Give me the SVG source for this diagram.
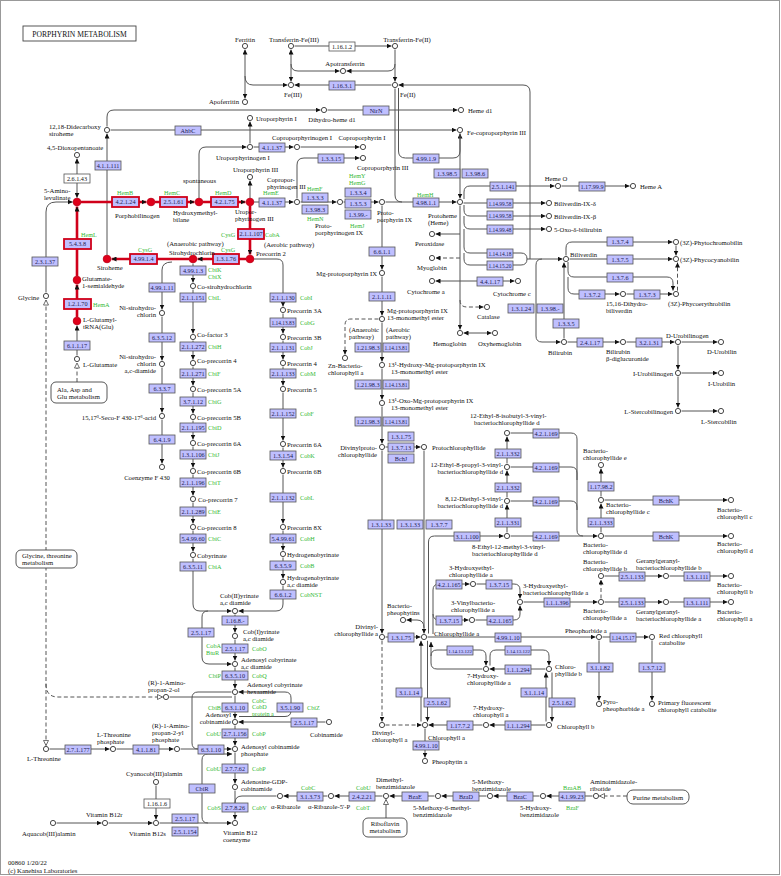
<svg xmlns="http://www.w3.org/2000/svg" width="781" height="876" viewBox="0 0 781 876">
<defs>
<style>
text{font-family:"Liberation Serif","Times New Roman",serif;font-size:6.7px;fill:#111}
.l{fill:none;stroke:#555;stroke-width:1}
.k{stroke-dasharray:4 2.5}
.rl{fill:none;stroke:#d0001a;stroke-width:2.6}
.ae{marker-end:url(#a)}
.as{marker-start:url(#a)}
.he{marker-end:url(#h)}
.hs{marker-start:url(#h)}
.e rect{fill:#bfbfff;stroke:#555;stroke-width:.8}
.e text{font-size:6.2px;text-anchor:middle;fill:#202050}
.e .t{font-size:5.4px}
.e .tt{font-size:5px}
.w rect{fill:#fff}
.w text{fill:#111}
.r rect{stroke:#d0001a;stroke-width:1.8}
.c circle{fill:#fff;stroke:#333;stroke-width:.9}
.c .rd{fill:#e0001a;stroke:#c00018}
.g{fill:#33b833;font-size:6.2px}
.m{text-anchor:middle}
.n{text-anchor:end}
.mp rect{fill:#fff;stroke:#444;stroke-width:.9}
</style>
<marker id="a" viewBox="0 0 6 6" refX="6" refY="3" markerWidth="5" markerHeight="5" markerUnits="userSpaceOnUse" orient="auto-start-reverse"><path d="M0,0L6,3L0,6z" fill="#111"/></marker>
<marker id="h" viewBox="0 0 7 7" refX="6.5" refY="3.5" markerWidth="6" markerHeight="6" markerUnits="userSpaceOnUse" orient="auto-start-reverse"><path d="M0.6,0.6L6.5,3.5L0.6,6.4z" fill="#fff" stroke="#444" stroke-width=".9"/></marker>
</defs>
<rect width="781" height="876" fill="#fff"/>
<rect x="0.5" y="0.5" width="779" height="874" fill="none" stroke="#999"/>
<g id="title" class="mp"><rect x="23" y="26" width="113" height="15"/><text x="79.5" y="36.5" class="m" style="font-size:7.6px">PORPHYRIN METABOLISM</text></g>

<g id="connectors">
<path class="l ae as" d="M245,49.5V98.5"/>
<path class="l ae" d="M245,76Q245,85 253,85H287.5"/>
<path class="l ae" d="M294.5,46H391.5"/>
<path class="l ae as" d="M291,49.5V81.5"/>
<path class="l ae" d="M395,49.5V81.5"/>
<path class="l ae" d="M291,64Q291,71 298,71H339.5"/>
<path class="l ae" d="M395,64Q395,71 388,71H346.5"/>
<path class="l ae" d="M391.5,85H294.5"/>
<path class="l ae" d="M530,259V92Q530,85 523,85H398.5"/>
<path class="l ae" d="M107,126.5V117Q107,110 114,110H320.5"/>
<path class="l ae" d="M327.5,110H457.5"/>
<path class="l ae" d="M110.5,130H456.5"/>
<path class="l ae" d="M199,198V154Q199,147 206,147H246.5"/>
<path class="l ae" d="M250,143.5V121.5"/>
<path class="l ae" d="M253.5,147H293.5"/>
<path class="l ae" d="M300.5,147H359.5"/>
<path class="l ae" d="M250,198V180.5"/>
<path class="l ae as" d="M77,158.5V197.7"/>
<path class="l ae" d="M46,292.5V212Q46,202 56,202H72.7"/>
<path class="l ae" d="M107,255V133.5"/>
<path class="l ae" d="M254,202H293.5"/>
<path class="l ae" d="M300.5,202H336.5"/>
<path class="l ae" d="M343.5,202H378.5"/>
<path class="l ae" d="M385.5,202H456.5"/>
<path class="l" d="M395,88.5V195Q395,202 402,202"/>
<path class="l ae" d="M398.5,88V151Q398.5,158 405.5,158H453Q460,158 460,151V133.5"/>
<path class="l ae" d="M297,198.5V165Q297,158 304,158H359.5"/>
<path class="l ae" d="M460,133.5V198.5"/>
<path class="l ae" d="M464,199V192Q464,186 470,186H554.5"/>
<path class="l ae" d="M561.5,186H629.5"/>
<path class="l ae" d="M463.5,203H545.5"/>
<path class="l ae" d="M464,205V210Q464,216 470,216H545.5"/>
<path class="l ae" d="M464,216V223Q464,229 470,229H545.5"/>
<path class="l" d="M464,229V247Q464,253 470,253H521Q527,253 527,259"/>
<path class="l" d="M464,253V259Q464,265 470,265H521Q527,265 527,259"/>
<path class="l ae" d="M527,259H562.5"/>
<path class="l ae" d="M460,205.5V329.5"/>
<path class="l ae" d="M460,234H435.5"/>
<path class="l k ae" d="M460,258H435.5"/>
<path class="l ae" d="M460,281H435.5"/>
<path class="l ae" d="M460,281H514.5"/>
<path class="l k ae" d="M460,300Q460,307 467,307H483.5"/>
<path class="l ae as" d="M463.5,333H491.5"/>
<path class="l ae" d="M566,255.5V248Q566,242 572,242H672.5"/>
<path class="l ae" d="M569.5,259H672.5"/>
<path class="l ae" d="M676,245.5V255.5"/>
<path class="l ae" d="M568,262V271Q568,277 574,277H667Q673,277 673,283V290.6"/>
<path class="l ae" d="M568,277V288Q568,294 574,294H619.5"/>
<path class="l ae" d="M626.5,294H672.5"/>
<path class="l k ae" d="M677.5,290.7V262.5"/>
<path class="l ae" d="M564,338.5V262.5"/>
<path class="l ae" d="M542,259Q536,259 536,265V336Q536,342 542,342H560.5"/>
<path class="l ae" d="M567.5,342H619.5"/>
<path class="l ae" d="M626.5,342H674.5"/>
<path class="l ae" d="M681.5,342H717.5"/>
<path class="l ae" d="M678,345.5V369.5"/>
<path class="l ae" d="M681.5,373H717.5"/>
<path class="l ae" d="M678,376.5V407.5"/>
<path class="l ae" d="M681.5,411H717.5"/>
<path class="l ae" d="M77,355.5V325.5"/>
<path class="l k he" d="M77,382V363"/>
<path class="l k he hs" d="M46,300V745.5"/>
<path class="l k he" d="M46,684Q46,697 58,697H162.5"/>
<path class="l" d="M169.5,697H232"/>
<path class="l ae" d="M193,263.5V282.5"/>
<path class="l ae" d="M193,289.5V333.5"/>
<path class="l ae" d="M193,340.5V359.5"/>
<path class="l ae" d="M193,366.5V385.5"/>
<path class="l ae" d="M193,392.5V413.5"/>
<path class="l ae" d="M193,420.5V439.5"/>
<path class="l ae" d="M193,446.5V467.5"/>
<path class="l ae" d="M193,474.5V495.5"/>
<path class="l ae" d="M193,502.5V523.5"/>
<path class="l ae" d="M193,530.5V551.5"/>
<path class="l ae" d="M193,558.5V604Q193,611 200,611H231.5"/>
<path class="l ae" d="M208,611Q202,611 202,617V657Q202,664 209,664H231.5"/>
<path class="l ae" d="M172,262Q162,262 162,270V309.5"/>
<path class="l ae" d="M162,316.5V360.5"/>
<path class="l ae" d="M162,367.5V412.5"/>
<path class="l ae" d="M162,419.5V463.5"/>
<path class="l ae" d="M253.5,259H277Q283,259 283,265V306.5"/>
<path class="l ae" d="M283,313.5V333.5"/>
<path class="l ae" d="M283,340.5V359.5"/>
<path class="l ae" d="M283,366.5V385.5"/>
<path class="l ae" d="M283,392.5V440.5"/>
<path class="l ae" d="M283,447.5V467.5"/>
<path class="l ae" d="M283,474.5V523.5"/>
<path class="l ae" d="M283,530.5V550.5"/>
<path class="l ae" d="M283,557.5V578.5"/>
<path class="l ae" d="M283,585.5V604Q283,611 276,611H238.5"/>
<path class="l ae" d="M235,614.5V632.5"/>
<path class="l ae" d="M235,639.5V660.5"/>
<path class="l ae" d="M235,667.5V688.5"/>
<path class="l ae" d="M235,695.5V718.5"/>
<path class="l ae" d="M235,725.5V745.5"/>
<path class="l ae" d="M235,752.5V783.5"/>
<path class="l ae" d="M235,790.5V819.5"/>
<path class="l" d="M276.5,796H242Q235,796 235,803"/>
<path class="l ae" d="M239,716.5H285Q291,716.5 291,710.5V698Q291,692 285,692H238.5"/>
<path class="l ae" d="M325.5,722H238.5"/>
<path class="l" d="M231.5,692H198Q192,692 192,698V743Q192,749 198,749"/>
<path class="l ae" d="M180.5,749H231.5"/>
<path class="l ae" d="M49.5,749H109.5"/>
<path class="l ae" d="M116.5,749H173.5"/>
<path class="l ae" d="M208,823Q202,823 202,817V760Q202,754 208,754H232"/>
<path class="l ae" d="M159.5,823H231.5"/>
<path class="l ae" d="M156,785.5V819.5"/>
<path class="l ae" d="M56.5,823H101.5"/>
<path class="l ae" d="M108.5,823H152.5"/>
<path class="l ae" d="M327.5,796H283.5"/>
<path class="l ae" d="M382.5,796H334.5"/>
<path class="l ae" d="M434.5,796H389.5"/>
<path class="l ae" d="M486.5,796H441.5"/>
<path class="l ae" d="M539.5,796H493.5"/>
<path class="l ae" d="M592.5,796H546.5"/>
<path class="l k he" d="M627,796H599.5"/>
<path class="l he" d="M386,818V799.5"/>
<path class="l ae" d="M382,205.5V269.5"/>
<path class="l ae" d="M382,276.5V315.5"/>
<path class="l k ae" d="M378.5,319H351Q345,319 345,325V354.5"/>
<path class="l ae" d="M382,322.5V361.5"/>
<path class="l ae" d="M382,368.5V399.5"/>
<path class="l ae" d="M382,406.5V443.5"/>
<path class="l ae" d="M385.5,447H420.5"/>
<path class="l ae" d="M382,450.5V633.5"/>
<path class="l ae" d="M424,450.5V633.5"/>
<path class="l ae" d="M385.5,637H420.5"/>
<path class="l k ae" d="M382,640.5V721.5"/>
<path class="l k ae" d="M385.5,725H421.5"/>
<path class="l ae" d="M425,728.5V757.5"/>
<path class="l ae" d="M421,721.5V640.8"/>
<path class="l ae" d="M427.5,640.8V721.5"/>
<path class="l ae" d="M482.5,669H437Q431,669 431,663V642"/>
<path class="l ae" d="M431,656Q431,650 437,650H480Q486,650 486,656V665.5"/>
<path class="l ae" d="M490,665.5V656Q490,650 496,650H543Q549,650 549,656V665.5"/>
<path class="l ae" d="M545.5,669H489.5"/>
<path class="l ae" d="M482.5,725H428.5"/>
<path class="l ae" d="M545.5,725H489.5"/>
<path class="l ae" d="M546,721.5V672.5"/>
<path class="l ae" d="M552,672.5V721.5"/>
<path class="l ae" d="M424,628Q424,620 417,620H406.5"/>
<path class="l ae" d="M427.5,637H595.5"/>
<path class="l ae" d="M428.5,633.5V542Q428.5,536 434.5,536H503.5"/>
<path class="l ae" d="M433,634V590Q433,584 439,584H469.5"/>
<path class="l ae" d="M433,614Q433,620 439,620H468.5"/>
<path class="l ae" d="M476.5,584H514Q520,584 520,590V598.5"/>
<path class="l ae" d="M475.5,620H514Q520,620 520,614V605.5"/>
<path class="l ae" d="M523.5,602H597.5"/>
<path class="l ae" d="M604.5,602H662.5"/>
<path class="l ae" d="M669.5,602H727.5"/>
<path class="l k ae" d="M601,598.5V579.5"/>
<path class="l ae" d="M604.5,576H662.5"/>
<path class="l ae" d="M669.5,576H727.5"/>
<path class="l ae" d="M510.5,536H597.5"/>
<path class="l" d="M510.5,501H571Q577,501 577,507V530Q577,536 583,536"/>
<path class="l" d="M510.5,467H571Q577,467 577,473V510"/>
<path class="l" d="M510.5,433H571Q577,433 577,439V480"/>
<path class="l ae" d="M507,532.5V504.5"/>
<path class="l ae" d="M507,497.5V470.5"/>
<path class="l ae" d="M507,463.5V436.5"/>
<path class="l ae" d="M601,532.5V503.5"/>
<path class="l ae" d="M601,496.5V468.5"/>
<path class="l ae" d="M604.5,500H727.5"/>
<path class="l ae" d="M604.5,536H727.5"/>
<path class="l ae" d="M602.5,637H648.5"/>
<path class="l ae" d="M599,640.5V700.5"/>
<path class="l ae" d="M652,640.5V700.5"/>
<path class="rl ae" d="M81,202H146.5"/>
<path class="rl ae" d="M155,202H194.5"/>
<path class="rl ae" d="M203,202H245.5"/>
<path class="rl ae" d="M77,276V206.5"/>
<path class="rl ae" d="M77,317V284.5"/>
<path class="rl ae" d="M250,206V254.5"/>
<path class="rl ae" d="M246,259H197.5"/>
<path class="rl ae" d="M189,259H111.5"/>
</g>

<g id="maps" class="mp">
<g id="map-ala"><rect x="51" y="382" width="56" height="21" rx="5"/><text x="57" y="392">Ala, Asp and</text><text x="57" y="399">Glu metabolism</text></g>
<g id="map-gly"><rect x="16" y="550" width="61" height="18" rx="5"/><text x="22" y="558">Glycine, threonine</text><text x="22" y="565">metabolism</text></g>
<g id="map-ribo"><rect x="363" y="818" width="44" height="19" rx="5"/><text x="385" y="826" class="m">Riboflavin</text><text x="385" y="833" class="m">metabolism</text></g>
<g id="map-purine"><rect x="627" y="790" width="62" height="14" rx="6"/><text x="658" y="799.5" class="m">Purine metabolism</text></g>
</g>

<g id="enzymes">
<g id="e1" class="e" transform="translate(95,161)"><rect width="26" height="9"/><text x="13" y="6.7">4.1.1.111</text></g>
<g id="e2" class="e" transform="translate(175,126)"><rect width="26" height="9"/><text x="13" y="6.7">AhbC</text></g>
<g id="e3" class="e w" transform="translate(64,174)"><rect width="26" height="9"/><text x="13" y="6.7">2.6.1.43</text></g>
<g id="e4" class="e r" transform="translate(112,197)"><rect width="27" height="10"/><text x="13.5" y="7.2">4.2.1.24</text></g>
<g id="e5" class="e r" transform="translate(160,197)"><rect width="27" height="10"/><text x="13.5" y="7.2">2.5.1.61</text></g>
<g id="e6" class="e r" transform="translate(211,197)"><rect width="27" height="10"/><text x="13.5" y="7.2">4.2.1.75</text></g>
<g id="e7" class="e" transform="translate(259,143)"><rect width="26" height="9"/><text x="13" y="6.7">4.1.1.37</text></g>
<g id="e8" class="e" transform="translate(259,198)"><rect width="26" height="9"/><text x="13" y="6.7">4.1.1.37</text></g>
<g id="e9" class="e w" transform="translate(329,42)"><rect width="26" height="9"/><text x="13" y="6.7">1.16.1.2</text></g>
<g id="e10" class="e" transform="translate(329,81)"><rect width="26" height="9"/><text x="13" y="6.7">1.16.3.1</text></g>
<g id="e11" class="e" transform="translate(363,106)"><rect width="26" height="9"/><text x="13" y="6.7">NirN</text></g>
<g id="e12" class="e" transform="translate(318,154)"><rect width="26" height="9"/><text x="13" y="6.7">1.3.3.15</text></g>
<g id="e13" class="e" transform="translate(413,154)"><rect width="26" height="9"/><text x="13" y="6.7">4.99.1.9</text></g>
<g id="e14" class="e" transform="translate(434,169)"><rect width="26" height="9"/><text x="13" y="6.7">1.3.98.5</text></g>
<g id="e15" class="e" transform="translate(462,169)"><rect width="26" height="9"/><text x="13" y="6.7">1.3.98.6</text></g>
<g id="e16" class="e" transform="translate(490,182)"><rect width="26" height="9"/><text x="13" y="6.7">2.5.1.141</text></g>
<g id="e17" class="e" transform="translate(579,182)"><rect width="26" height="9"/><text x="13" y="6.7">1.17.99.9</text></g>
<g id="e18" class="e" transform="translate(302,193)"><rect width="26" height="9"/><text x="13" y="6.7">1.3.3.3</text></g>
<g id="e19" class="e" transform="translate(302,205)"><rect width="26" height="9"/><text x="13" y="6.7">1.3.98.3</text></g>
<g id="e20" class="e" transform="translate(345,188)"><rect width="26" height="9"/><text x="13" y="6.7">1.3.3.4</text></g>
<g id="e21" class="e" transform="translate(345,199)"><rect width="26" height="9"/><text x="13" y="6.7">1.3.5.3</text></g>
<g id="e22" class="e" transform="translate(345,210)"><rect width="26" height="9"/><text x="13" y="6.7">1.3.99.-</text></g>
<g id="e23" class="e" transform="translate(413,198)"><rect width="26" height="9"/><text x="13" y="6.7">4.98.1.1</text></g>
<g id="e24" class="e" transform="translate(487,199)"><rect width="26" height="9"/><text x="13" y="6.6" class="t">1.14.99.58</text></g>
<g id="e25" class="e" transform="translate(487,211)"><rect width="26" height="9"/><text x="13" y="6.6" class="t">1.14.99.58</text></g>
<g id="e26" class="e" transform="translate(487,225)"><rect width="26" height="9"/><text x="13" y="6.6" class="t">1.14.99.48</text></g>
<g id="e27" class="e" transform="translate(487,249)"><rect width="26" height="9"/><text x="13" y="6.6" class="t">1.14.14.18</text></g>
<g id="e28" class="e" transform="translate(487,261)"><rect width="26" height="9"/><text x="13" y="6.6" class="t">1.14.15.20</text></g>
<g id="e29" class="e r" transform="translate(64,239)"><rect width="27" height="10"/><text x="13.5" y="7.2">5.4.3.8</text></g>
<g id="e30" class="e r" transform="translate(64,299)"><rect width="27" height="10"/><text x="13.5" y="7.2">1.2.1.70</text></g>
<g id="e31" class="e" transform="translate(64,341)"><rect width="26" height="9"/><text x="13" y="6.7">6.1.1.17</text></g>
<g id="e32" class="e" transform="translate(32,257)"><rect width="26" height="9"/><text x="13" y="6.7">2.3.1.37</text></g>
<g id="e33" class="e r" transform="translate(130,254)"><rect width="27" height="10"/><text x="13.5" y="7.2">4.99.1.4</text></g>
<g id="e34" class="e r" transform="translate(213,254)"><rect width="26" height="10"/><text x="13" y="7.2">1.3.1.76</text></g>
<g id="e35" class="e r" transform="translate(238,229)"><rect width="26" height="10"/><text x="13" y="7.2">2.1.1.107</text></g>
<g id="e36" class="e" transform="translate(180,266)"><rect width="26" height="9"/><text x="13" y="6.7">4.99.1.3</text></g>
<g id="e37" class="e" transform="translate(149,283)"><rect width="26" height="9"/><text x="13" y="6.7">4.99.1.11</text></g>
<g id="e38" class="e" transform="translate(180,293)"><rect width="26" height="9"/><text x="13" y="6.7">2.1.1.151</text></g>
<g id="e39" class="e" transform="translate(149,333)"><rect width="26" height="9"/><text x="13" y="6.7">6.3.5.12</text></g>
<g id="e40" class="e" transform="translate(180,342)"><rect width="26" height="9"/><text x="13" y="6.7">2.1.1.272</text></g>
<g id="e41" class="e" transform="translate(149,384)"><rect width="26" height="9"/><text x="13" y="6.7">6.3.3.7</text></g>
<g id="e42" class="e" transform="translate(180,369)"><rect width="26" height="9"/><text x="13" y="6.7">2.1.1.271</text></g>
<g id="e43" class="e" transform="translate(180,397)"><rect width="26" height="9"/><text x="13" y="6.7">3.7.1.12</text></g>
<g id="e44" class="e" transform="translate(149,435)"><rect width="26" height="9"/><text x="13" y="6.7">6.4.1.9</text></g>
<g id="e45" class="e" transform="translate(180,423)"><rect width="26" height="9"/><text x="13" y="6.7">2.1.1.195</text></g>
<g id="e46" class="e" transform="translate(180,450)"><rect width="26" height="9"/><text x="13" y="6.7">1.3.1.106</text></g>
<g id="e47" class="e" transform="translate(180,478)"><rect width="26" height="9"/><text x="13" y="6.7">2.1.1.196</text></g>
<g id="e48" class="e" transform="translate(180,507)"><rect width="26" height="9"/><text x="13" y="6.7">2.1.1.289</text></g>
<g id="e49" class="e" transform="translate(180,534)"><rect width="26" height="9"/><text x="13" y="6.7">5.4.99.60</text></g>
<g id="e50" class="e" transform="translate(180,562)"><rect width="26" height="9"/><text x="13" y="6.7">6.3.5.11</text></g>
<g id="e51" class="e" transform="translate(270,293)"><rect width="26" height="9"/><text x="13" y="6.7">2.1.1.130</text></g>
<g id="e52" class="e" transform="translate(270,318)"><rect width="26" height="9"/><text x="13" y="6.6" class="t">1.14.13.83</text></g>
<g id="e53" class="e" transform="translate(270,343)"><rect width="26" height="9"/><text x="13" y="6.7">2.1.1.131</text></g>
<g id="e54" class="e" transform="translate(270,369)"><rect width="26" height="9"/><text x="13" y="6.7">2.1.1.133</text></g>
<g id="e55" class="e" transform="translate(270,409)"><rect width="26" height="9"/><text x="13" y="6.7">2.1.1.152</text></g>
<g id="e56" class="e" transform="translate(270,451)"><rect width="26" height="9"/><text x="13" y="6.7">1.3.1.54</text></g>
<g id="e57" class="e" transform="translate(270,493)"><rect width="26" height="9"/><text x="13" y="6.7">2.1.1.132</text></g>
<g id="e58" class="e" transform="translate(270,534)"><rect width="26" height="9"/><text x="13" y="6.7">5.4.99.61</text></g>
<g id="e59" class="e" transform="translate(270,561)"><rect width="26" height="9"/><text x="13" y="6.7">6.3.5.9</text></g>
<g id="e60" class="e" transform="translate(270,590)"><rect width="26" height="9"/><text x="13" y="6.7">6.6.1.2</text></g>
<g id="e61" class="e" transform="translate(222,616)"><rect width="26" height="9"/><text x="13" y="6.7">1.16.8.-</text></g>
<g id="e62" class="e" transform="translate(188,628)"><rect width="26" height="9"/><text x="13" y="6.7">2.5.1.17</text></g>
<g id="e63" class="e" transform="translate(222,644)"><rect width="26" height="9"/><text x="13" y="6.7">2.5.1.17</text></g>
<g id="e64" class="e" transform="translate(222,671)"><rect width="26" height="9"/><text x="13" y="6.7">6.3.5.10</text></g>
<g id="e65" class="e" transform="translate(222,703)"><rect width="26" height="9"/><text x="13" y="6.7">6.3.1.10</text></g>
<g id="e66" class="e" transform="translate(277,703)"><rect width="26" height="9"/><text x="13" y="6.7">3.5.1.90</text></g>
<g id="e67" class="e" transform="translate(291,718)"><rect width="26" height="9"/><text x="13" y="6.7">2.5.1.17</text></g>
<g id="e68" class="e" transform="translate(222,729)"><rect width="26" height="9"/><text x="13" y="6.7">2.7.1.156</text></g>
<g id="e69" class="e" transform="translate(198,745)"><rect width="26" height="9"/><text x="13" y="6.7">6.3.1.10</text></g>
<g id="e70" class="e" transform="translate(65,745)"><rect width="26" height="9"/><text x="13" y="6.7">2.7.1.177</text></g>
<g id="e71" class="e" transform="translate(133,745)"><rect width="26" height="9"/><text x="13" y="6.7">4.1.1.81</text></g>
<g id="e72" class="e" transform="translate(222,764)"><rect width="26" height="9"/><text x="13" y="6.7">2.7.7.62</text></g>
<g id="e73" class="e" transform="translate(189,784)"><rect width="26" height="9"/><text x="13" y="6.7">CbiR</text></g>
<g id="e74" class="e" transform="translate(222,803)"><rect width="26" height="9"/><text x="13" y="6.7">2.7.8.26</text></g>
<g id="e75" class="e w" transform="translate(144,799)"><rect width="26" height="9"/><text x="13" y="6.7">1.16.1.6</text></g>
<g id="e76" class="e" transform="translate(172,814)"><rect width="26" height="9"/><text x="13" y="6.7">2.5.1.17</text></g>
<g id="e77" class="e" transform="translate(172,827)"><rect width="26" height="9"/><text x="13" y="6.7">2.5.1.154</text></g>
<g id="e78" class="e" transform="translate(297,792)"><rect width="26" height="9"/><text x="13" y="6.7">3.1.3.73</text></g>
<g id="e79" class="e" transform="translate(349,792)"><rect width="26" height="9"/><text x="13" y="6.7">2.4.2.21</text></g>
<g id="e80" class="e" transform="translate(402,792)"><rect width="26" height="9"/><text x="13" y="6.7">BzaE</text></g>
<g id="e81" class="e" transform="translate(453,792)"><rect width="26" height="9"/><text x="13" y="6.7">BzaD</text></g>
<g id="e82" class="e" transform="translate(507,792)"><rect width="26" height="9"/><text x="13" y="6.7">BzaC</text></g>
<g id="e83" class="e" transform="translate(559,792)"><rect width="26" height="9"/><text x="13" y="6.7">4.1.99.23</text></g>
<g id="e84" class="e" transform="translate(369,247)"><rect width="26" height="9"/><text x="13" y="6.7">6.6.1.1</text></g>
<g id="e85" class="e" transform="translate(369,292)"><rect width="26" height="9"/><text x="13" y="6.7">2.1.1.11</text></g>
<g id="e86" class="e" transform="translate(355,343)"><rect width="26" height="9"/><text x="13" y="6.7">1.21.98.3</text></g>
<g id="e87" class="e" transform="translate(383,343)"><rect width="26" height="9"/><text x="13" y="6.6" class="t">1.14.13.81</text></g>
<g id="e88" class="e" transform="translate(355,380)"><rect width="26" height="9"/><text x="13" y="6.7">1.21.98.3</text></g>
<g id="e89" class="e" transform="translate(383,380)"><rect width="26" height="9"/><text x="13" y="6.6" class="t">1.14.13.81</text></g>
<g id="e90" class="e" transform="translate(355,417)"><rect width="26" height="9"/><text x="13" y="6.7">1.21.98.3</text></g>
<g id="e91" class="e" transform="translate(383,417)"><rect width="26" height="9"/><text x="13" y="6.6" class="t">1.14.13.81</text></g>
<g id="e92" class="e" transform="translate(388,432)"><rect width="26" height="9"/><text x="13" y="6.7">1.3.1.75</text></g>
<g id="e93" class="e" transform="translate(388,443)"><rect width="26" height="9"/><text x="13" y="6.7">1.3.7.13</text></g>
<g id="e94" class="e" transform="translate(388,454)"><rect width="26" height="9"/><text x="13" y="6.7">BchJ</text></g>
<g id="e95" class="e" transform="translate(368,520)"><rect width="26" height="9"/><text x="13" y="6.7">1.3.1.33</text></g>
<g id="e96" class="e" transform="translate(397,520)"><rect width="26" height="9"/><text x="13" y="6.7">1.3.1.33</text></g>
<g id="e97" class="e" transform="translate(426,520)"><rect width="26" height="9"/><text x="13" y="6.7">1.3.7.7</text></g>
<g id="e98" class="e" transform="translate(388,633)"><rect width="26" height="9"/><text x="13" y="6.7">1.3.1.75</text></g>
<g id="e99" class="e" transform="translate(477,277)"><rect width="26" height="9"/><text x="13" y="6.7">4.4.1.17</text></g>
<g id="e100" class="e" transform="translate(508,304)"><rect width="26" height="9"/><text x="13" y="6.7">1.3.1.24</text></g>
<g id="e101" class="e" transform="translate(537,304)"><rect width="26" height="9"/><text x="13" y="6.7">1.3.98.-</text></g>
<g id="e102" class="e" transform="translate(553,319)"><rect width="26" height="9"/><text x="13" y="6.7">1.3.3.5</text></g>
<g id="e103" class="e" transform="translate(607,237)"><rect width="26" height="9"/><text x="13" y="6.7">1.3.7.4</text></g>
<g id="e104" class="e" transform="translate(607,255)"><rect width="26" height="9"/><text x="13" y="6.7">1.3.7.5</text></g>
<g id="e105" class="e" transform="translate(607,273)"><rect width="26" height="9"/><text x="13" y="6.7">1.3.7.6</text></g>
<g id="e106" class="e" transform="translate(579,290)"><rect width="26" height="9"/><text x="13" y="6.7">1.3.7.2</text></g>
<g id="e107" class="e" transform="translate(634,290)"><rect width="26" height="9"/><text x="13" y="6.7">1.3.7.3</text></g>
<g id="e108" class="e" transform="translate(577,338)"><rect width="26" height="9"/><text x="13" y="6.7">2.4.1.17</text></g>
<g id="e109" class="e" transform="translate(636,338)"><rect width="26" height="9"/><text x="13" y="6.7">3.2.1.31</text></g>
<g id="e110" class="e" transform="translate(495,449)"><rect width="26" height="9"/><text x="13" y="6.7">2.1.1.332</text></g>
<g id="e111" class="e" transform="translate(495,483)"><rect width="26" height="9"/><text x="13" y="6.7">2.1.1.332</text></g>
<g id="e112" class="e" transform="translate(495,518)"><rect width="26" height="9"/><text x="13" y="6.7">2.1.1.331</text></g>
<g id="e113" class="e" transform="translate(533,429)"><rect width="26" height="9"/><text x="13" y="6.7">4.2.1.169</text></g>
<g id="e114" class="e" transform="translate(533,463)"><rect width="26" height="9"/><text x="13" y="6.7">4.2.1.169</text></g>
<g id="e115" class="e" transform="translate(533,497)"><rect width="26" height="9"/><text x="13" y="6.7">4.2.1.169</text></g>
<g id="e116" class="e" transform="translate(533,532)"><rect width="26" height="9"/><text x="13" y="6.7">4.2.1.169</text></g>
<g id="e117" class="e" transform="translate(588,482)"><rect width="26" height="9"/><text x="13" y="6.7">1.17.98.2</text></g>
<g id="e118" class="e" transform="translate(588,518)"><rect width="26" height="9"/><text x="13" y="6.7">2.1.1.333</text></g>
<g id="e119" class="e" transform="translate(653,496)"><rect width="26" height="9"/><text x="13" y="6.7">BchK</text></g>
<g id="e120" class="e" transform="translate(653,532)"><rect width="26" height="9"/><text x="13" y="6.7">BchK</text></g>
<g id="e121" class="e" transform="translate(454,532)"><rect width="26" height="9"/><text x="13" y="6.7">3.1.1.100</text></g>
<g id="e122" class="e" transform="translate(436,580)"><rect width="26" height="9"/><text x="13" y="6.7">4.2.1.165</text></g>
<g id="e123" class="e" transform="translate(486,580)"><rect width="26" height="9"/><text x="13" y="6.7">1.3.7.15</text></g>
<g id="e124" class="e" transform="translate(436,616)"><rect width="26" height="9"/><text x="13" y="6.7">1.3.7.15</text></g>
<g id="e125" class="e" transform="translate(487,616)"><rect width="26" height="9"/><text x="13" y="6.7">4.2.1.165</text></g>
<g id="e126" class="e" transform="translate(544,598)"><rect width="26" height="9"/><text x="13" y="6.7">1.1.1.396</text></g>
<g id="e127" class="e" transform="translate(619,572)"><rect width="26" height="9"/><text x="13" y="6.7">2.5.1.133</text></g>
<g id="e128" class="e" transform="translate(684,572)"><rect width="26" height="9"/><text x="13" y="6.7">1.3.1.111</text></g>
<g id="e129" class="e" transform="translate(619,598)"><rect width="26" height="9"/><text x="13" y="6.7">2.5.1.133</text></g>
<g id="e130" class="e" transform="translate(684,598)"><rect width="26" height="9"/><text x="13" y="6.7">1.3.1.111</text></g>
<g id="e131" class="e" transform="translate(495,633)"><rect width="26" height="9"/><text x="13" y="6.7">4.99.1.10</text></g>
<g id="e132" class="e" transform="translate(610,633)"><rect width="26" height="9"/><text x="13" y="6.6" class="t">1.14.15.17</text></g>
<g id="e133" class="e" transform="translate(587,663)"><rect width="26" height="9"/><text x="13" y="6.7">3.1.1.82</text></g>
<g id="e134" class="e" transform="translate(639,663)"><rect width="26" height="9"/><text x="13" y="6.7">1.3.7.12</text></g>
<g id="e135" class="e" transform="translate(447,646)"><rect width="26" height="9"/><text x="13" y="6.5" class="tt">1.14.13.122</text></g>
<g id="e136" class="e" transform="translate(505,646)"><rect width="26" height="9"/><text x="13" y="6.5" class="tt">1.14.13.122</text></g>
<g id="e137" class="e" transform="translate(505,665)"><rect width="26" height="9"/><text x="13" y="6.7">1.1.1.294</text></g>
<g id="e138" class="e" transform="translate(396,688)"><rect width="26" height="9"/><text x="13" y="6.7">3.1.1.14</text></g>
<g id="e139" class="e" transform="translate(424,698)"><rect width="26" height="9"/><text x="13" y="6.7">2.5.1.62</text></g>
<g id="e140" class="e" transform="translate(521,688)"><rect width="26" height="9"/><text x="13" y="6.7">3.1.1.14</text></g>
<g id="e141" class="e" transform="translate(549,698)"><rect width="26" height="9"/><text x="13" y="6.7">2.5.1.62</text></g>
<g id="e142" class="e" transform="translate(447,721)"><rect width="26" height="9"/><text x="13" y="6.7">1.17.7.2</text></g>
<g id="e143" class="e" transform="translate(505,721)"><rect width="26" height="9"/><text x="13" y="6.7">1.1.1.294</text></g>
<g id="e144" class="e" transform="translate(413,741)"><rect width="26" height="9"/><text x="13" y="6.7">4.99.1.10</text></g>
</g>

<g id="genes">
<text class="g" x="117" y="195">HemB</text><text class="g" x="164" y="195">HemC</text><text class="g" x="215" y="195">HemD</text><text class="g" x="263" y="195">HemE</text>
<text class="g" x="81" y="236.5">HemL</text><text class="g" x="93" y="306.5">HemA</text>
<text class="g" x="138" y="252">CysG</text><text class="g" x="221" y="252">CysG</text>
<text class="g" x="221" y="236.5">CysG</text><text class="g" x="265" y="236.5">CobA</text>
<text class="g" x="208" y="271.5">CbiK</text><text class="g" x="208" y="278.5">CbiX</text>
<text class="g" x="208" y="299.5">CbiL</text><text class="g" x="208" y="348.5">CbiH</text><text class="g" x="208" y="375.5">CbiF</text><text class="g" x="208" y="403.5">CbiG</text><text class="g" x="208" y="429.5">CbiD</text><text class="g" x="208" y="456.5">CbiJ</text><text class="g" x="208" y="484.5">CbiT</text><text class="g" x="208" y="513.5">CbiE</text><text class="g" x="208" y="540.5">CbiC</text><text class="g" x="208" y="568.5">CbiA</text>
<text class="g" x="300" y="299.5">CobI</text><text class="g" x="300" y="324.5">CobG</text><text class="g" x="300" y="349.5">CobJ</text><text class="g" x="300" y="375.5">CobM</text><text class="g" x="300" y="415.5">CobF</text><text class="g" x="300" y="457.5">CobK</text><text class="g" x="300" y="499.5">CobL</text><text class="g" x="300" y="540.5">CobH</text><text class="g" x="300" y="567.5">CobB</text><text class="g" x="300" y="596.5">CobNST</text>
<text class="g" x="307" y="190.5">HemF</text><text class="g" x="307" y="220.5">HemN</text><text class="g" x="349" y="177.5">HemY</text><text class="g" x="349" y="185">HemG</text><text class="g" x="350" y="227.5">HemJ</text><text class="g" x="417" y="197">HemH</text>
<text class="g n" x="221" y="647.5">CobA</text><text class="g" x="206" y="654.5">BtuR</text><text class="g" x="252" y="650.5">CobO</text>
<text class="g n" x="221" y="678">CbiP</text><text class="g" x="252" y="678">CobQ</text>
<text class="g n" x="221" y="710">CbiB</text><text class="g" x="252" y="702.5">CobC</text><text class="g" x="252" y="709">CobD</text><text class="g" x="252" y="715.5">protein a</text><text class="g" x="307" y="710">CbiZ</text>
<text class="g n" x="221" y="735.5">CobU</text><text class="g" x="252" y="735.5">CobP</text>
<text class="g n" x="221" y="770.5">CobU</text><text class="g" x="252" y="770.5">CobP</text>
<text class="g n" x="221" y="809.5">CobS</text><text class="g" x="252" y="809.5">CobV</text>
<text class="g" x="301" y="789.5">CobC</text><text class="g" x="356" y="789.5">CobU</text><text class="g" x="356" y="809.5">CobT</text>
<text class="g" x="563" y="789.5">BzaAB</text><text class="g" x="566" y="809.5">BzaF</text>
</g>

<g id="notes">
<text x="183" y="182.5">spontaneous</text>
<text x="167" y="245.5">(Anaerobic pathway)</text>
<text x="264" y="246.5">(Aerobic pathway)</text>
<text x="349" y="331.5">(Anaerobic</text><text x="349" y="338.5">pathway)</text>
<text x="386" y="331.5">(Aerobic</text><text x="386" y="338.5">pathway)</text>
<text x="8" y="864.5">00860 1/20/22</text>
<text x="8" y="872.5">(c) Kanehisa Laboratories</text>
</g>

<g id="compounds">
<g id="n-ferritin" class="c"><circle cx="245" cy="46" r="2.6"/><text x="245" y="41.5" class="m">Ferritin</text></g>
<g id="n-apoferritin" class="c"><circle cx="245" cy="102" r="2.6"/><text x="239" y="104" class="n">Apoferritin</text></g>
<g id="n-tf3" class="c"><circle cx="291" cy="46" r="2.6"/><text x="294" y="41.5" class="m">Transferrin-Fe(III)</text></g>
<g id="n-tf2" class="c"><circle cx="395" cy="46" r="2.6"/><text x="407" y="41.5" class="m">Transferrin-Fe(II)</text></g>
<g id="n-apotf" class="c"><circle cx="343" cy="71" r="2.6"/><text x="345" y="66" class="m">Apotransferrin</text></g>
<g id="n-fe3" class="c"><circle cx="291" cy="85" r="2.6"/><text x="293" y="96.5" class="m">Fe(III)</text></g>
<g id="n-fe2" class="c"><circle cx="395" cy="85" r="2.6"/><text x="400" y="96.5">Fe(II)</text></g>
<g id="n-dhd1" class="c"><circle cx="324" cy="110" r="2.6"/><text x="332" y="121.5" class="m">Dihydro-heme d1</text></g>
<g id="n-hemed1" class="c"><circle cx="461" cy="110" r="2.6"/><text x="468" y="112.5">Heme d1</text></g>
<g id="n-uro1" class="c"><circle cx="250" cy="118" r="2.6"/><text x="256" y="121">Uroporphyrin I</text></g>
<g id="n-fecopro3" class="c"><circle cx="460" cy="130" r="2.6"/><text x="467" y="134.5">Fe-coproporphyrin III</text></g>
<g id="n-didecarb" class="c"><circle cx="107" cy="130" r="2.6"/><text x="49" y="128.5">12,18-Didecarboxy</text><text x="49" y="135.5">siroheme</text></g>
<g id="n-dioxo" class="c"><circle cx="77" cy="155" r="2.6"/><text x="47" y="149.5">4,5-Dioxopentanoate</text></g>
<g id="n-coprogen1" class="c"><circle cx="297" cy="147" r="2.6"/><text x="302" y="139.5" class="m">Coproporphyrinogen I</text></g>
<g id="n-copro1" class="c"><circle cx="363" cy="147" r="2.6"/><text x="362" y="139.5" class="m">Coproporphyrin I</text></g>
<g id="n-urogen1" class="c"><circle cx="250" cy="147" r="2.6"/><text x="216" y="159.5">Uroporphyrinogen I</text></g>
<g id="n-copro3" class="c"><circle cx="363" cy="158" r="2.6"/><text x="357" y="169.5">Coproporphyrin III</text></g>
<g id="n-uro3" class="c"><circle cx="250" cy="177" r="2.6"/><text x="233" y="171.5">Uroporphyrin III</text></g>
<g id="n-ala" class="c"><circle cx="77" cy="202" r="3.8" class="rd"/><text x="44" y="192.5">5-Amino-</text><text x="44" y="199.5">levulinate</text></g>
<g id="n-pbg" class="c"><circle cx="151" cy="202" r="3.8" class="rd"/><text x="115" y="217.5">Porphobilinogen</text></g>
<g id="n-hmb" class="c"><circle cx="199" cy="202" r="3.8" class="rd"/><text x="173" y="215">Hydroxymethyl-</text><text x="173" y="222">bilane</text></g>
<g id="n-urogen3" class="c"><circle cx="250" cy="202" r="3.8" class="rd"/><text x="235" y="214">Uropor-</text><text x="235" y="221">phyrinogen III</text></g>
<g id="n-coprogen3" class="c"><circle cx="297" cy="202" r="2.6"/><text x="267" y="181.5">Copropor-</text><text x="267" y="188.5">phyrinogen III</text></g>
<g id="n-protogen" class="c"><circle cx="340" cy="202" r="2.6"/><text x="315" y="227.5">Proto-</text><text x="315" y="234.5">porphyrinogen IX</text></g>
<g id="n-proto" class="c"><circle cx="382" cy="202" r="2.6"/><text x="377" y="214.5">Proto-</text><text x="377" y="221.5">porphyrin IX</text></g>
<g id="n-protoheme" class="c"><circle cx="460" cy="202" r="2.6"/><text x="428" y="217.5">Protoheme</text><text x="428" y="224.5">(Heme)</text></g>
<g id="n-hemeo" class="c"><circle cx="558" cy="186" r="2.6"/><text x="556" y="180.5" class="m">Heme O</text></g>
<g id="n-hemea" class="c"><circle cx="633" cy="186" r="2.6"/><text x="640" y="188.5">Heme A</text></g>
<g id="n-bvd" class="c"><circle cx="549" cy="203" r="2.6"/><text x="554" y="205.5">Biliverdin-IX-δ</text></g>
<g id="n-bvb" class="c"><circle cx="549" cy="216" r="2.6"/><text x="554" y="218.5">Biliverdin-IX-β</text></g>
<g id="n-oxo" class="c"><circle cx="549" cy="229" r="2.6"/><text x="554" y="231.5">5-Oxo-δ-bilirubin</text></g>
<g id="n-gsa" class="c"><circle cx="77" cy="280" r="3.8" class="rd"/><text x="82" y="280.5">Glutamate-</text><text x="82" y="287.5">1-semialdehyde</text></g>
<g id="n-gtrna" class="c"><circle cx="77" cy="321" r="3.8" class="rd"/><text x="83" y="321.5">L-Glutamyl-</text><text x="83" y="328.5">tRNA(Glu)</text></g>
<g id="n-glu" class="c"><circle cx="77" cy="359" r="2.6"/><text x="83" y="366.5">L-Glutamate</text></g>
<g id="n-gly" class="c"><circle cx="46" cy="296" r="2.6"/><text x="18" y="299.5">Glycine</text></g>
<g id="n-siroheme" class="c"><circle cx="107" cy="259" r="3.8" class="rd"/><text x="97" y="269.5">Siroheme</text></g>
<g id="n-sirohydro" class="c"><circle cx="193" cy="259" r="3.8" class="rd"/><text x="169" y="254.5">Sirohydrochlorin</text></g>
<g id="n-precorrin2" class="c"><circle cx="250" cy="259" r="3.8" class="rd"/><text x="256" y="255.5">Precorrin 2</text></g>
<g id="n-cosiro" class="c"><circle cx="193" cy="286" r="2.6"/><text x="197" y="288.5">Co-sirohydrochlorin</text></g>
<g id="n-nisiro" class="c"><circle cx="162" cy="313" r="2.6"/><text x="156" y="310" class="n">Ni-sirohydro-</text><text x="156" y="317" class="n">chlorin</text></g>
<g id="n-cof3" class="c"><circle cx="193" cy="337" r="2.6"/><text x="197" y="336.5">Co-factor 3</text></g>
<g id="n-cop4" class="c"><circle cx="193" cy="363" r="2.6"/><text x="197" y="362.5">Co-precorrin 4</text></g>
<g id="n-nisirodia" class="c"><circle cx="162" cy="364" r="2.6"/><text x="156" y="359" class="n">Ni-sirohydro-</text><text x="156" y="366" class="n">chlorin</text><text x="156" y="373" class="n">a,c-diamide</text></g>
<g id="n-cop5a" class="c"><circle cx="193" cy="389" r="2.6"/><text x="197" y="391.5">Co-precorrin 5A</text></g>
<g id="n-seco" class="c"><circle cx="162" cy="416" r="2.6"/><text x="156" y="419.5" class="n">15,17³-Seco-F 430-17³-acid</text></g>
<g id="n-cop5b" class="c"><circle cx="193" cy="417" r="2.6"/><text x="197" y="419.5">Co-precorrin 5B</text></g>
<g id="n-cop6a" class="c"><circle cx="193" cy="443" r="2.6"/><text x="197" y="445.5">Co-precorrin 6A</text></g>
<g id="n-f430" class="c"><circle cx="162" cy="467" r="2.6"/><text x="147" y="479.5" class="m">Coenzyme F 430</text></g>
<g id="n-cop6b" class="c"><circle cx="193" cy="471" r="2.6"/><text x="197" y="473.5">Co-precorrin 6B</text></g>
<g id="n-cop7" class="c"><circle cx="193" cy="499" r="2.6"/><text x="198" y="501.5">Co-precorrin 7</text></g>
<g id="n-cop8" class="c"><circle cx="193" cy="527" r="2.6"/><text x="197" y="529.5">Co-precorrin 8</text></g>
<g id="n-cobyrinate" class="c"><circle cx="193" cy="555" r="2.6"/><text x="197" y="557.5">Cobyrinate</text></g>
<g id="n-p3a" class="c"><circle cx="283" cy="310" r="2.6"/><text x="287" y="312.5">Precorrin 3A</text></g>
<g id="n-p3b" class="c"><circle cx="283" cy="337" r="2.6"/><text x="287" y="339.5">Precorrin 3B</text></g>
<g id="n-p4" class="c"><circle cx="283" cy="363" r="2.6"/><text x="287" y="365.5">Precorrin 4</text></g>
<g id="n-p5" class="c"><circle cx="283" cy="389" r="2.6"/><text x="287" y="391.5">Precorrin 5</text></g>
<g id="n-p6a" class="c"><circle cx="283" cy="444" r="2.6"/><text x="287" y="446.5">Precorrin 6A</text></g>
<g id="n-p6b" class="c"><circle cx="283" cy="471" r="2.6"/><text x="287" y="473.5">Precorrin 6B</text></g>
<g id="n-p8x" class="c"><circle cx="283" cy="527" r="2.6"/><text x="287" y="529.5">Precorrin 8X</text></g>
<g id="n-hby" class="c"><circle cx="283" cy="554" r="2.6"/><text x="287" y="556.5">Hydrogenobyrinate</text></g>
<g id="n-hbyd" class="c"><circle cx="283" cy="582" r="2.6"/><text x="287" y="579.5">Hydrogenobyrinate</text><text x="287" y="586.5">a,c diamide</text></g>
<g id="n-cob2" class="c"><circle cx="235" cy="611" r="2.6"/><text x="220" y="598">Cob(II)yrinate</text><text x="220" y="605">a,c diamide</text></g>
<g id="n-cob1" class="c"><circle cx="235" cy="636" r="2.6"/><text x="243" y="634">Cob(I)yrinate</text><text x="243" y="641">a,c diamide</text></g>
<g id="n-adocbd" class="c"><circle cx="235" cy="664" r="2.6"/><text x="241" y="662">Adenosyl cobyrinate</text><text x="241" y="669">a,c diamide</text></g>
<g id="n-adohexa" class="c"><circle cx="235" cy="692" r="2.6"/><text x="247" y="686.5">Adenosyl cobyrinate</text><text x="247" y="693.5">hexaamide</text></g>
<g id="n-adocbi" class="c"><circle cx="235" cy="722" r="2.6"/><text x="231" y="717" class="n">Adenosyl</text><text x="231" y="724" class="n">cobinamide</text></g>
<g id="n-aminopropanol" class="c"><circle cx="166" cy="697" r="2.6"/><text x="148" y="685">(R)-1-Amino-</text><text x="148" y="692">propan-2-ol</text></g>
<g id="n-cobinamide" class="c"><circle cx="329" cy="722" r="2.6"/><text x="310" y="736.5">Cobinamide</text></g>
<g id="n-thr" class="c"><circle cx="46" cy="749" r="2.6"/><text x="27" y="760.5">L-Threonine</text></g>
<g id="n-thrp" class="c"><circle cx="113" cy="749" r="2.6"/><text x="97" y="737">L-Threonine</text><text x="97" y="744">phosphate</text></g>
<g id="n-aminopropp" class="c"><circle cx="177" cy="749" r="2.6"/><text x="152" y="727.5">(R)-1-Amino-</text><text x="152" y="734.5">propan-2-yl</text><text x="152" y="741.5">phosphate</text></g>
<g id="n-adocbip" class="c"><circle cx="235" cy="749" r="2.6"/><text x="241" y="749">Adenosyl cobinamide</text><text x="241" y="756">phosphate</text></g>
<g id="n-cyano" class="c"><circle cx="156" cy="782" r="2.6"/><text x="126" y="775.5">Cyanocob(III)alamin</text></g>
<g id="n-gdpcbi" class="c"><circle cx="235" cy="787" r="2.6"/><text x="241" y="784">Adenosine-GDP-</text><text x="241" y="791">cobinamide</text></g>
<g id="n-ribazole" class="c"><circle cx="280" cy="796" r="2.6"/><text x="271" y="808.5">α-Ribazole</text></g>
<g id="n-ribazolep" class="c"><circle cx="331" cy="796" r="2.6"/><text x="308" y="808.5">α-Ribazole-5'-P</text></g>
<g id="n-dmb" class="c"><circle cx="386" cy="796" r="2.6"/><text x="376" y="782">Dimethyl-</text><text x="376" y="789">benzimidazole</text></g>
<g id="n-mmb" class="c"><circle cx="438" cy="796" r="2.6"/><text x="413" y="810">5-Methoxy-6-methyl-</text><text x="413" y="817">benzimidazole</text></g>
<g id="n-mb" class="c"><circle cx="490" cy="796" r="2.6"/><text x="472" y="784">5-Methoxy-</text><text x="472" y="791">benzimidazole</text></g>
<g id="n-hbz" class="c"><circle cx="543" cy="796" r="2.6"/><text x="520" y="810">5-Hydroxy-</text><text x="520" y="817">benzimidazole</text></g>
<g id="n-air" class="c"><circle cx="596" cy="796" r="2.6"/><text x="590" y="784">Aminoimidazole-</text><text x="590" y="791">ribotide</text></g>
<g id="n-b12co" class="c"><circle cx="235" cy="823" r="2.6"/><text x="223" y="835">Vitamin B12</text><text x="223" y="842">coenzyme</text></g>
<g id="n-aquacob" class="c"><circle cx="53" cy="823" r="2.6"/><text x="22" y="835.5">Aquacob(III)alamin</text></g>
<g id="n-b12r" class="c"><circle cx="105" cy="823" r="2.6"/><text x="86" y="816.5">Vitamin B12r</text></g>
<g id="n-b12s" class="c"><circle cx="156" cy="823" r="2.6"/><text x="129" y="835.5">Vitamin B12s</text></g>
<g id="n-mgproto" class="c"><circle cx="382" cy="273" r="2.6"/><text x="377" y="275.5" class="n">Mg-protoporphyrin IX</text></g>
<g id="n-mgprotome" class="c"><circle cx="382" cy="319" r="2.6"/><text x="387" y="313">Mg-protoporphyrin IX</text><text x="387" y="320">13-monomethyl ester</text></g>
<g id="n-znbchl" class="c"><circle cx="345" cy="358" r="2.6"/><text x="328" y="368">Zn-Bacterio-</text><text x="328" y="375">chlorophyll a</text></g>
<g id="n-hydroxymg" class="c"><circle cx="382" cy="365" r="2.6"/><text x="388" y="366.5">13¹-Hydroxy-Mg-protoporphyrin IX</text><text x="391" y="374">13-monomethyl ester</text></g>
<g id="n-oxomg" class="c"><circle cx="382" cy="403" r="2.6"/><text x="388" y="402.5">13¹-Oxo-Mg-protoporphyrin IX</text><text x="391" y="409.5">13-monomethyl ester</text></g>
<g id="n-dvpchlide" class="c"><circle cx="382" cy="447" r="2.6"/><text x="377" y="450" class="n">Divinylproto-</text><text x="377" y="457" class="n">chlorophyllide</text></g>
<g id="n-pchlide" class="c"><circle cx="424" cy="447" r="2.6"/><text x="432" y="449.5">Protochlorophyllide</text></g>
<g id="n-dvchlide" class="c"><circle cx="382" cy="637" r="2.6"/><text x="378" y="629" class="n">Divinyl-</text><text x="378" y="636" class="n">chlorophyllide a</text></g>
<g id="n-chlidea" class="c"><circle cx="424" cy="637" r="2.6"/><text x="434" y="635.5">Chlorophyllide a</text></g>
<g id="n-bpheo" class="c"><circle cx="403" cy="620" r="2.6"/><text x="387" y="608">Bacterio-</text><text x="387" y="615">pheophytins</text></g>
<g id="n-hechlide" class="c"><circle cx="473" cy="584" r="2.6"/><text x="449" y="570">3-Hydroxyethyl-</text><text x="449" y="577">chlorophyllide a</text></g>
<g id="n-vbchlide" class="c"><circle cx="472" cy="620" r="2.6"/><text x="451" y="605">3-Vinylbacterio-</text><text x="451" y="612">chlorophyllide a</text></g>
<g id="n-hebchlide" class="c"><circle cx="520" cy="602" r="2.6"/><text x="523" y="588">3-Hydroxyethyl-</text><text x="523" y="595">bacteriochlorophyllide a</text></g>
<g id="n-bchlidea" class="c"><circle cx="601" cy="602" r="2.6"/><text x="583" y="613">Bacterio-</text><text x="583" y="620">chlorophyllide a</text></g>
<g id="n-ggbchlidea" class="c"><circle cx="666" cy="602" r="2.6"/><text x="636" y="614">Geranylgeranyl-</text><text x="636" y="621">bacteriochlorophyllide a</text></g>
<g id="n-bchla" class="c"><circle cx="731" cy="602" r="2.6"/><text x="717" y="614">Bacterio-</text><text x="717" y="621">chlorophyll a</text></g>
<g id="n-bchlideb" class="c"><circle cx="601" cy="576" r="2.6"/><text x="583" y="564">Bacterio-</text><text x="583" y="571">chlorophyllide b</text></g>
<g id="n-ggbchlideb" class="c"><circle cx="666" cy="576" r="2.6"/><text x="636" y="563">Geranylgeranyl-</text><text x="636" y="570">bacteriochlorophyllide b</text></g>
<g id="n-bchlb" class="c"><circle cx="731" cy="576" r="2.6"/><text x="717" y="587">Bacterio-</text><text x="717" y="594">chlorophyll b</text></g>
<g id="n-bchlided" class="c"><circle cx="601" cy="536" r="2.6"/><text x="583" y="547">Bacterio-</text><text x="583" y="554">chlorophyllide d</text></g>
<g id="n-bchld" class="c"><circle cx="731" cy="536" r="2.6"/><text x="717" y="546">Bacterio-</text><text x="717" y="553">chlorophyll d</text></g>
<g id="n-bchlidec" class="c"><circle cx="601" cy="500" r="2.6"/><text x="606" y="507">Bacterio-</text><text x="606" y="514">chlorophyllide c</text></g>
<g id="n-bchlc" class="c"><circle cx="731" cy="500" r="2.6"/><text x="717" y="512">Bacterio-</text><text x="717" y="519">chlorophyll c</text></g>
<g id="n-bchlidee" class="c"><circle cx="601" cy="465" r="2.6"/><text x="583" y="453">Bacterio-</text><text x="583" y="460">chlorophyllide e</text></g>
<g id="n-emv" class="c"><circle cx="507" cy="536" r="2.6"/><text x="472" y="549">8-Ethyl-12-methyl-3-vinyl-</text><text x="472" y="556">bacteriochlorophyllide d</text></g>
<g id="n-dev" class="c"><circle cx="507" cy="501" r="2.6"/><text x="503" y="501" class="n">8,12-Diethyl-3-vinyl-</text><text x="503" y="508" class="n">bacteriochlorophyllide d</text></g>
<g id="n-epv" class="c"><circle cx="507" cy="467" r="2.6"/><text x="503" y="467" class="n">12-Ethyl-8-propyl-3-vinyl-</text><text x="503" y="474" class="n">bacteriochlorophyllide d</text></g>
<g id="n-eiv" class="c"><circle cx="507" cy="433" r="2.6"/><text x="470" y="417.5">12-Ethyl-8-isobutyl-3-vinyl-</text><text x="474" y="424.5">bacteriochlorophyllide d</text></g>
<g id="n-pheide" class="c"><circle cx="599" cy="637" r="2.6"/><text x="565" y="632.5">Pheophorbide a</text></g>
<g id="n-rcc" class="c"><circle cx="652" cy="637" r="2.6"/><text x="659" y="638">Red chlorophyll</text><text x="659" y="645">catabolite</text></g>
<g id="n-pyro" class="c"><circle cx="599" cy="704" r="2.6"/><text x="603" y="704">Pyro-</text><text x="603" y="711">pheophorbide a</text></g>
<g id="n-pfcc" class="c"><circle cx="652" cy="704" r="2.6"/><text x="658" y="705">Primary fluorescent</text><text x="658" y="712">chlorophyll catabolite</text></g>
<g id="n-ohchlide" class="c"><circle cx="486" cy="669" r="2.6"/><text x="467" y="678">7-Hydroxy-</text><text x="467" y="685">chlorophyllide a</text></g>
<g id="n-chlideb" class="c"><circle cx="549" cy="669" r="2.6"/><text x="555" y="669">Chloro-</text><text x="555" y="676">phyllide b</text></g>
<g id="n-ohchl" class="c"><circle cx="486" cy="725" r="2.6"/><text x="473" y="710">7-Hydroxy-</text><text x="473" y="717">chlorophyll a</text></g>
<g id="n-chla" class="c"><circle cx="425" cy="725" r="2.6"/><text x="428" y="739.5">Chlorophyll a</text></g>
<g id="n-dvchl" class="c"><circle cx="382" cy="725" r="2.6"/><text x="372" y="735">Divinyl-</text><text x="372" y="742">chlorophyll a</text></g>
<g id="n-chlb" class="c"><circle cx="549" cy="725" r="2.6"/><text x="557" y="728.5">Chlorophyll b</text></g>
<g id="n-pheo" class="c"><circle cx="425" cy="761" r="2.6"/><text x="432" y="763.5">Pheophytin a</text></g>
<g id="n-perox" class="c"><circle cx="432" cy="234" r="2.6"/><text x="415" y="245.5">Peroxidase</text></g>
<g id="n-myo" class="c"><circle cx="432" cy="258" r="2.6"/><text x="417" y="269.5">Myoglobin</text></g>
<g id="n-cyta" class="c"><circle cx="432" cy="281" r="2.6"/><text x="407" y="293.5">Cytochrome a</text></g>
<g id="n-cytc" class="c"><circle cx="518" cy="281" r="2.6"/><text x="493" y="295.5">Cytochrome c</text></g>
<g id="n-catalase" class="c"><circle cx="487" cy="307" r="2.6"/><text x="477" y="318.5">Catalase</text></g>
<g id="n-hb" class="c"><circle cx="460" cy="333" r="2.6"/><text x="433" y="345.5">Hemoglobin</text></g>
<g id="n-oxyhb" class="c"><circle cx="495" cy="333" r="2.6"/><text x="478" y="345.5">Oxyhemoglobin</text></g>
<g id="n-biliverdin" class="c"><circle cx="566" cy="259" r="2.6"/><text x="570" y="256.5">Biliverdin</text></g>
<g id="n-phytochromobilin" class="c"><circle cx="676" cy="242" r="2.6"/><text x="680" y="244.5">(3Z)-Phytochromobilin</text></g>
<g id="n-phycocyanobilin" class="c"><circle cx="676" cy="259" r="2.6"/><text x="680" y="261.5">(3Z)-Phycocyanobilin</text></g>
<g id="n-dhbv" class="c"><circle cx="623" cy="294" r="2.6"/><text x="606" y="305.5">15,16-Dihydro-</text><text x="606" y="312.5">biliverdin</text></g>
<g id="n-phycoerythrobilin" class="c"><circle cx="676" cy="294" r="2.6"/><text x="668" y="306">(3Z)-Phycoerythrobilin</text></g>
<g id="n-bilirubin" class="c"><circle cx="564" cy="342" r="2.6"/><text x="548" y="354.5">Bilirubin</text></g>
<g id="n-bdg" class="c"><circle cx="623" cy="342" r="2.6"/><text x="606" y="354">Bilirubin</text><text x="606" y="361">β-diglucuronide</text></g>
<g id="n-durogen" class="c"><circle cx="678" cy="342" r="2.6"/><text x="666" y="337.5">D-Urobilinogen</text></g>
<g id="n-durobilin" class="c"><circle cx="721" cy="342" r="2.6"/><text x="707" y="353.5">D-Urobilin</text></g>
<g id="n-iurogen" class="c"><circle cx="678" cy="373" r="2.6"/><text x="673" y="375.5" class="n">I-Urobilinogen</text></g>
<g id="n-iurobilin" class="c"><circle cx="721" cy="373" r="2.6"/><text x="708" y="385.5">I-Urobilin</text></g>
<g id="n-lstercogen" class="c"><circle cx="678" cy="411" r="2.6"/><text x="673" y="413.5" class="n">L-Stercobilinogen</text></g>
<g id="n-lsterco" class="c"><circle cx="721" cy="411" r="2.6"/><text x="701" y="423.5">L-Stercobilin</text></g>
</g>
</svg>
